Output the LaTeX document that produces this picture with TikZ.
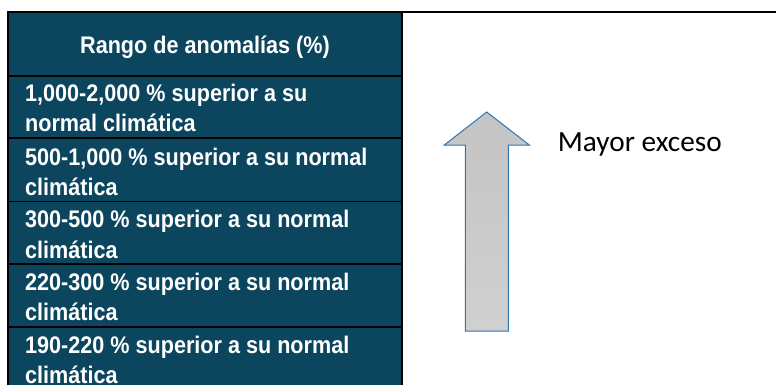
\documentclass[tikz,border=0pt]{standalone}
\usepackage{fontspec}
\newfontfamily\tabfont{Liberation Sans}[FakeStretch=0.9]
\newfontfamily\calfont{Carlito}
\definecolor{tabfill}{RGB}{12,70,94}
\definecolor{arrowline}{RGB}{46,117,182}
\definecolor{graytop}{RGB}{196,196,196}
\definecolor{graybot}{RGB}{208,208,208}
\tikzset{
  celltext/.style={anchor=base west, inner sep=0pt, text=white, font=\tabfont\bfseries\fontsize{24}{30}\selectfont},
  headtext/.style={anchor=base, inner sep=0pt, text=white, font=\tabfont\bfseries\fontsize{24}{30}\selectfont},
  rowline/.style={black, line width=1.4pt},
  labeltext/.style={anchor=base west, inner sep=0pt, text=black, font=\calfont\fontsize{29.3}{34}\selectfont},
}
\begin{document}
\begin{tikzpicture}[x=1pt,y=-1pt]
\useasboundingbox (0,0) rectangle (776,385);
% table background
\fill[tabfill] (8,12) rectangle (402,385);
% top rule across whole width
\draw[black, line width=1.2pt] (402,12) -- (776,12);
% table borders
\draw[rowline] (8,385) -- (8,12) -- (402,12) -- (402,385);
\foreach \yy in {76,138,201.5,264,327} {
  \draw[rowline] (8,\yy) -- (402,\yy);
}
% header
\node[headtext] (head) at (205,53.3) {Rango de anomalías (\%)};
% rows
\node[celltext] (r1a) at (25,102) {1,000-2,000 \% superior a su};
\node[celltext] (r1b) at (25,131.7) {normal climática};
\node[celltext] (r2a) at (25,165.7) {500-1,000 \% superior a su normal};
\node[celltext] (r2b) at (25,195) {climática};
\node[celltext] (r3a) at (25,227) {300-500 \% superior a su normal};
\node[celltext] (r3b) at (25,258.3) {climática};
\node[celltext] (r4a) at (25,290) {220-300 \% superior a su normal};
\node[celltext] (r4b) at (25,320) {climática};
\node[celltext] (r5a) at (25,353.3) {190-220 \% superior a su normal};
\node[celltext] (r5b) at (25,383) {climática};
% arrow
\draw[arrowline, line width=1pt, line join=miter, top color=graytop, bottom color=graybot]
  (486.7,112) -- (529.3,145) -- (508.3,145) -- (508.3,331) -- (465.3,331) -- (465.3,145) -- (444.3,145) -- cycle;
\node[labeltext] (lab) at (557.7,151.7) {Mayor exceso};
\end{tikzpicture}
\end{document}
